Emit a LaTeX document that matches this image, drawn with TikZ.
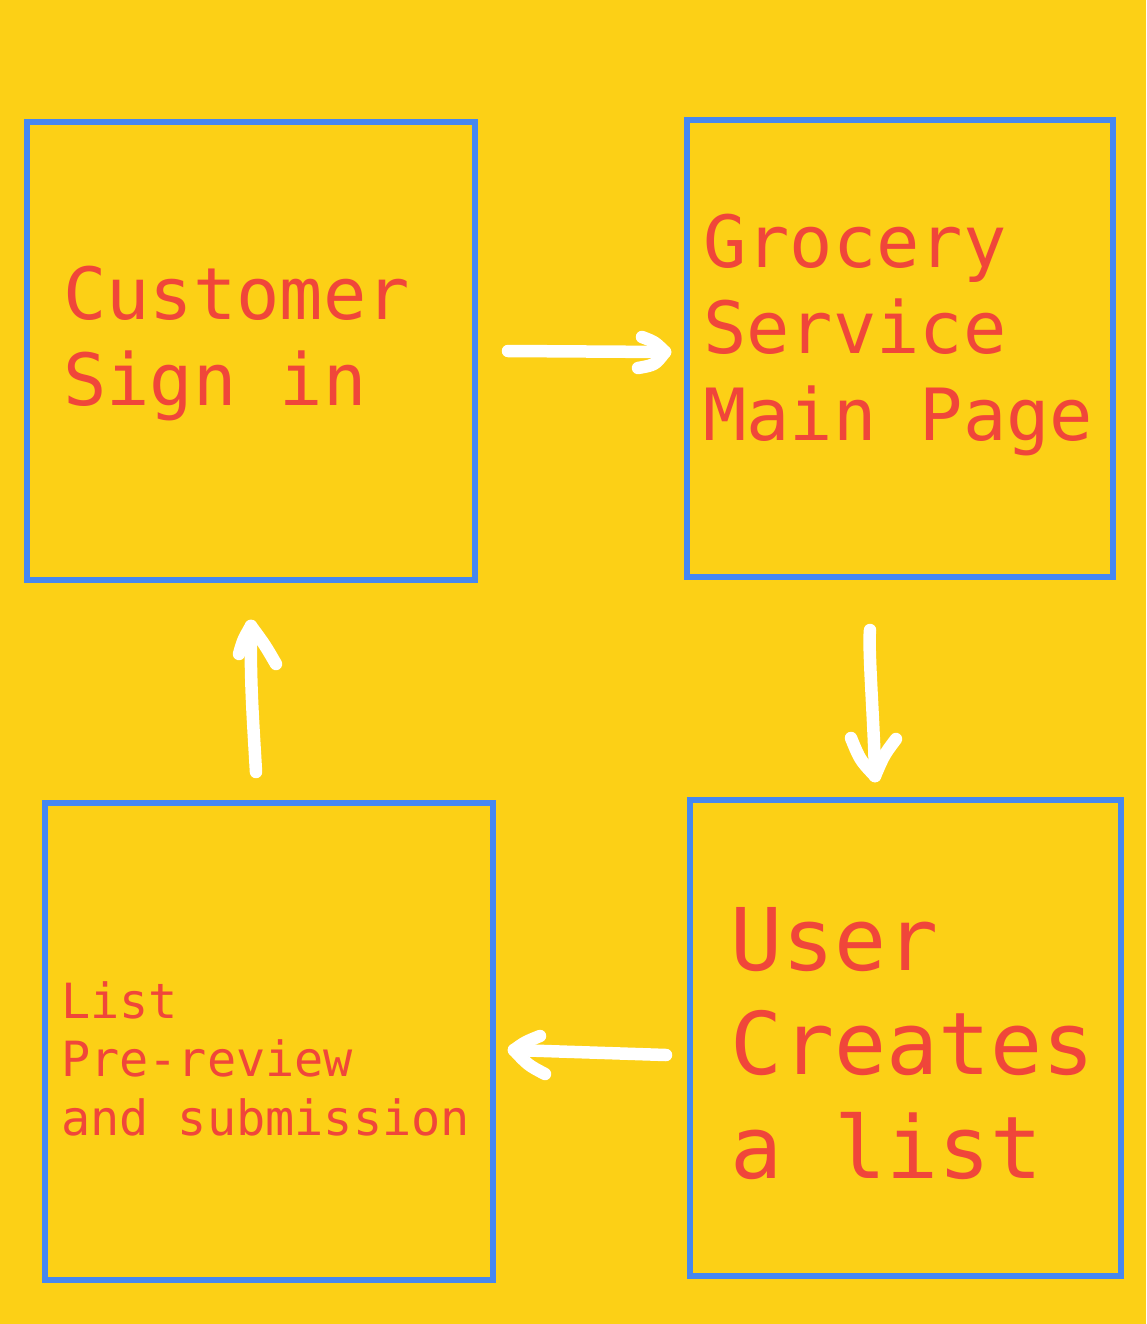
\documentclass[tikz,border=0pt]{standalone}
\usepackage{fontspec}
\setmonofont{DejaVu Sans Mono}
\definecolor{bgyellow}{RGB}{252,208,22}
\definecolor{boxblue}{RGB}{70,135,240}
\definecolor{txtred}{RGB}{240,70,58}
\tikzset{
  stepbox/.style={draw=boxblue, line width=6.5pt, fill=none},
  lbl/.style={anchor=base west, inner sep=0pt, align=left, text=txtred, font=\ttfamily},
  wline/.style={draw=white, line width=12.5pt, line cap=round, line join=round},
}
\begin{document}
\begin{tikzpicture}[x=1pt,y=-1pt]
\fill[bgyellow] (0,0) rectangle (1146,1324);
\useasboundingbox (0,0) rectangle (1146,1324);
% boxes
\draw[stepbox] (27,122) rectangle (475,580);
\draw[stepbox] (687,120) rectangle (1113,577);
\draw[stepbox] (690,800) rectangle (1121,1276);
\draw[stepbox] (45,803) rectangle (493,1280);
% texts (anchor = baseline of last line)
\node[lbl, font=\ttfamily\fontsize{72}{86}\selectfont] (t1) at (63,405) {Customer\\Sign in};
\node[lbl, font=\ttfamily\fontsize{72}{86.5}\selectfont] (t2) at (703,440) {Grocery\\Service\\Main Page};
\node[lbl, font=\ttfamily\fontsize{86.5}{104}\selectfont] (t3) at (730,1178) {User\\Creates\\a list};
\node[lbl, font=\ttfamily\fontsize{48.5}{58.5}\selectfont] (t4) at (61,1135) {List\\Pre-review\\and submission};
% arrows
\coordinate (a1s) at (508,351); \coordinate (a1e) at (665,352);
\draw[wline] (a1s) -- (a1e);
\draw[wline] (642,337) .. controls (655,342) .. (a1e);
\draw[wline] (638,368) .. controls (655,365) .. (a1e);
\coordinate (a2s) at (870,630); \coordinate (a2e) at (875,776);
\draw[wline] (a2s) .. controls (868,650) and (874,720) .. (a2e);
\draw[wline] (851,738) .. controls (860,760) .. (a2e);
\draw[wline] (896,739) .. controls (884,755) .. (a2e);
\coordinate (a3s) at (666,1055); \coordinate (a3e) at (514,1050);
\draw[wline] (a3s) -- (a3e);
\draw[wline] (540,1036) .. controls (525,1042) .. (a3e);
\draw[wline] (545,1074) .. controls (528,1065) .. (a3e);
\coordinate (a4s) at (256,772); \coordinate (a4e) at (251,626);
\draw[wline] (a4s) .. controls (253,720) and (250,680) .. (a4e);
\draw[wline] (239,654) .. controls (243,640) .. (a4e);
\draw[wline] (276,664) .. controls (265,645) .. (a4e);
\end{tikzpicture}
\end{document}
